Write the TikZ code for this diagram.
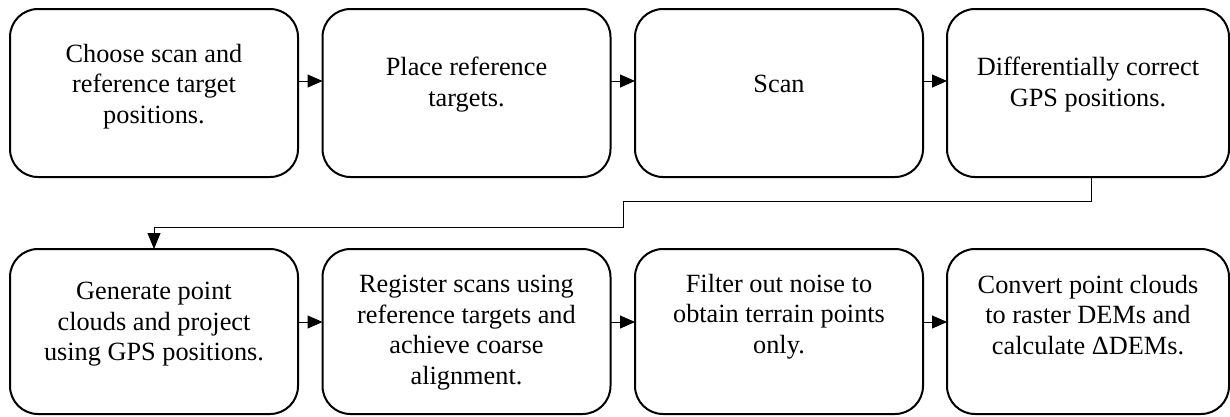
\documentclass[tikz,border=0pt]{standalone}
\usepackage{fontspec}
\setmainfont{Liberation Serif}
\usetikzlibrary{arrows.meta}
\begin{document}
\begin{tikzpicture}[x=1pt,y=-1pt,
  stepbox/.style={draw=black, line width=2pt, rounded corners=28pt, minimum width=288pt, inner sep=0pt, outer sep=0pt},
  toprow/.style={minimum height=168pt},
  botrow/.style={minimum height=165pt},
  lbl/.style={font=\fontsize{26.3}{30.5}\selectfont, align=center, inner sep=0pt, anchor=north},
  arr/.style={line width=1pt, -{Triangle[length=15pt,width=13pt]}},
  conn/.style={line width=1pt, -{Triangle[length=16pt,width=13pt]}}]
\useasboundingbox (0,0) rectangle (1230,416);
% boxes
\node[stepbox, toprow] (b1) at (154,93) {};
\node[stepbox, toprow] (b2) at (466.5,93) {};
\node[stepbox, toprow] (b3) at (779,93) {};
\node[stepbox, toprow, minimum width=282pt] (b4) at (1088,93) {};
\node[stepbox, botrow] (b5) at (154,331.5) {};
\node[stepbox, botrow] (b6) at (466.5,331.5) {};
\node[stepbox, botrow] (b7) at (779,331.5) {};
\node[stepbox, botrow, minimum width=282pt] (b8) at (1088,331.5) {};
% texts
\node[lbl] (t1) at (154,44) {Choose scan and\\reference target\\positions.};
\node[lbl] (t2) at (466.5,57) {Place reference\\targets.};
\node[lbl, anchor=base] (t3) at (779,92) {Scan};
\node[lbl] (t4) at (1088,57) {Differentially correct\\GPS positions.};
\node[lbl] (t5) at (154,282) {Generate point\\clouds and project\\using GPS positions.};
\node[lbl] (t6) at (466.5,275) {Register scans using\\reference targets and\\achieve coarse\\alignment.};
\node[lbl] (t7) at (779,274) {Filter out noise to\\obtain terrain points\\only.};
\node[lbl] (t8) at (1088,275) {Convert point clouds\\to raster DEMs and\\calculate ΔDEMs.};
% arrows
\draw[arr] ([yshift=12pt]b1.east) -- ([yshift=12pt]b2.west);
\draw[arr] ([yshift=12pt]b2.east) -- ([yshift=12pt]b3.west);
\draw[arr] ([yshift=12pt]b3.east) -- ([yshift=12pt]b4.west);
\draw[arr] ([yshift=9.5pt]b5.east) -- ([yshift=9.5pt]b6.west);
\draw[arr] ([yshift=9.5pt]b6.east) -- ([yshift=9.5pt]b7.west);
\draw[arr] ([yshift=9.5pt]b7.east) -- ([yshift=9.5pt]b8.west);
% connector from row 1 to row 2
\coordinate (k0) at (1091,177);
\coordinate (k1) at (623,201);
\coordinate (k2) at (623,227);
\draw[conn] (k0) |- (k1) -- (k2) -| (b5.north);
\end{tikzpicture}
\end{document}
